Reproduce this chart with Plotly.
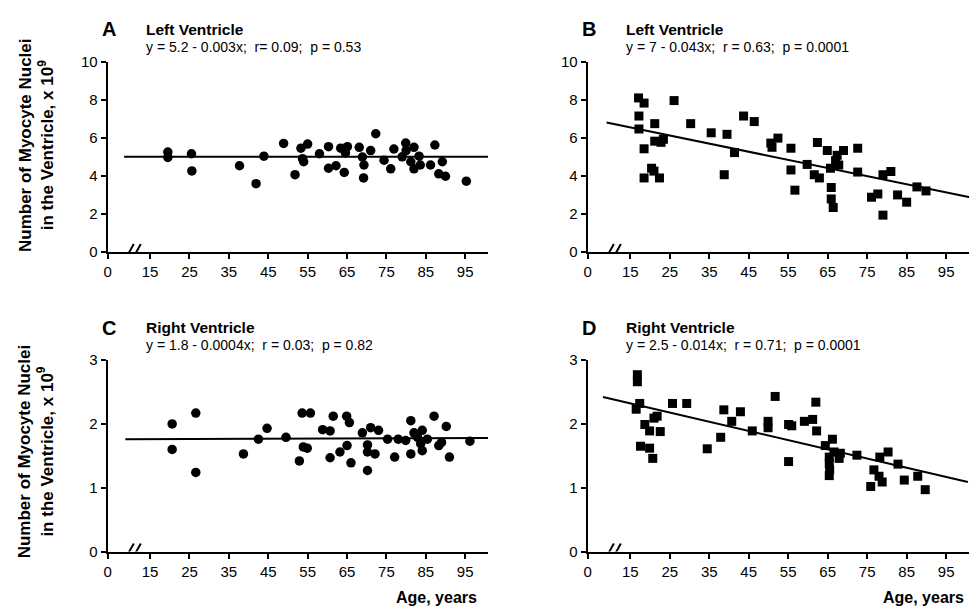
import plotly.graph_objects as go

# ---------------- data ----------------
A_age = [19.5, 19.5, 25.5, 25.6, 37.7, 41.9, 43.9, 48.9, 51.8, 53.3, 55.0, 54.0, 53.7, 58.0,
         60.3, 60.3, 62.2, 63.4, 65.1, 64.3, 64.6, 68.1, 68.9, 69.3, 69.2, 71.0, 72.3, 74.4,
         76.1, 76.9, 79.9, 80.0, 82.0, 81.2, 82.0, 83.3, 83.6, 86.2, 87.3, 89.2, 88.3, 90.0,
         95.3, 79.0]
A_val = [5.25, 4.97, 5.16, 4.26, 4.53, 3.59, 5.03, 5.70, 4.06, 5.45, 5.67, 4.74, 4.90, 5.16,
         5.53, 4.40, 4.53, 5.45, 5.53, 4.18, 5.20, 5.50, 4.99, 4.57, 3.89, 5.33, 6.21, 4.82,
         4.37, 5.41, 5.72, 5.33, 5.50, 4.74, 4.37, 5.03, 4.57, 4.57, 5.62, 4.74, 4.11, 3.98,
         3.72, 5.00]
A_fit_x = [8.4, 100.8]
A_fit_y = [5.0, 5.0]

B_age = [17.1, 18.5, 17.2, 17.2, 21.2, 26.1, 18.5, 21.2, 22.8, 23.4, 30.3, 35.5, 39.5, 43.7,
         46.4, 41.4, 50.9, 50.6, 52.4, 55.7, 18.5, 20.4, 21.0, 22.4, 38.8, 55.7, 56.7, 59.8,
         62.4, 61.6, 62.9, 64.9, 65.7, 65.9, 65.9, 66.4, 67.4, 67.8, 67.0, 69.0, 72.6, 72.6,
         76.1, 77.7, 79.0, 79.0, 81.0, 82.7, 85.0, 87.6, 89.9]
B_val = [8.09, 7.82, 7.14, 6.46, 6.74, 7.95, 5.42, 5.82, 5.76, 5.92, 6.74, 6.26, 6.18, 7.14,
         6.85, 5.22, 5.50, 5.72, 5.98, 5.45, 3.89, 4.40, 4.25, 3.89, 4.06, 4.31, 3.25, 4.60,
         5.75, 4.06, 3.89, 5.33, 4.40, 3.39, 2.79, 2.34, 5.08, 4.57, 4.80, 5.33, 5.45, 4.20,
         2.88, 3.05, 1.94, 4.06, 4.23, 3.00, 2.62, 3.42, 3.21]
B_fit_x = [9.0, 101.0]
B_fit_y = [6.80, 2.88]

C_age = [20.6, 20.6, 26.6, 26.6, 38.7, 42.5, 44.7, 49.5, 52.9, 53.6, 55.7, 53.9, 54.9, 58.8,
         60.7, 60.7, 61.5, 63.2, 64.9, 65.6, 65.0, 66.0, 68.9, 70.2, 70.2, 70.2, 71.0, 73.0,
         72.1, 75.3, 77.1, 78.0, 79.9, 81.2, 81.2, 82.0, 82.9, 84.1, 83.7, 84.1, 85.4, 87.1,
         88.3, 89.0, 90.2, 91.0, 96.2]
C_val = [2.00, 1.60, 2.17, 1.24, 1.53, 1.76, 1.93, 1.79, 1.42, 2.17, 2.17, 1.64, 1.62, 1.91,
         1.89, 1.47, 2.12, 1.56, 2.12, 2.02, 1.66, 1.39, 1.86, 1.67, 1.56, 1.27, 1.94, 1.90,
         1.53, 1.76, 1.48, 1.76, 1.74, 2.05, 1.53, 1.86, 1.79, 1.90, 1.69, 1.58, 1.76, 2.12,
         1.66, 1.71, 1.96, 1.48, 1.73]
C_fit_x = [8.7, 100.8]
C_fit_y = [1.76, 1.78]

D_age = [16.8, 16.8, 17.4, 16.5, 18.7, 19.9, 21.0, 21.8, 22.6, 17.6, 19.9, 20.7, 25.7, 29.3,
         34.5, 37.9, 38.7, 40.7, 42.9, 45.9, 49.9, 49.9, 51.7, 55.1, 55.9, 55.1, 59.1, 61.2,
         62.0, 62.2, 64.4, 66.2, 65.4, 65.4, 65.4, 65.5, 66.6, 67.9, 68.2, 72.4, 75.9, 76.7,
         78.0, 78.8, 78.2, 80.3, 82.8, 84.4, 87.8, 89.7]
D_val = [2.77, 2.66, 2.32, 2.23, 1.99, 1.89, 2.09, 2.12, 1.88, 1.65, 1.62, 1.46, 2.32, 2.32,
         1.61, 1.79, 2.22, 2.04, 2.19, 1.89, 2.04, 1.94, 2.43, 1.99, 1.97, 1.41, 2.04, 2.07,
         2.34, 1.89, 1.66, 1.76, 1.48, 1.38, 1.19, 1.28, 1.56, 1.46, 1.54, 1.51, 1.02, 1.28,
         1.18, 1.09, 1.48, 1.56, 1.37, 1.12, 1.18, 0.97]
D_fit_x = [8.1, 100.5]
D_fit_y = [2.42, 1.09]

x_tick_vals = [4.2, 15, 25, 35, 45, 55, 65, 75, 85, 95]
x_tick_text = ["0", "15", "25", "35", "45", "55", "65", "75", "85", "95"]
top_y_ticks = [0, 2, 4, 6, 8, 10]
bottom_y_ticks = [0, 1, 2, 3]

panel_letters = ["A", "B", "C", "D"]
panel_titles = ["Left Ventricle", "Left Ventricle", "Right Ventricle", "Right Ventricle"]
panel_equations = [
    "y = 5.2 - 0.003x;&nbsp; r= 0.09;&nbsp; p = 0.53",
    "y = 7 - 0.043x;&nbsp; r = 0.63;&nbsp; p = 0.0001",
    "y = 1.8 - 0.0004x;&nbsp; r = 0.03;&nbsp; p = 0.82",
    "y = 2.5 - 0.014x;&nbsp; r = 0.71;&nbsp; p = 0.0001",
]
y_title = "Number of Myocyte Nuclei<br>in the Ventricle, x 10<sup>9</sup>"
x_title = "Age, years"

# ---------------- layout geometry ----------------
W, H = 980, 616
FONT = "Liberation Sans, Arial, Helvetica, sans-serif"


def px(x):
    return x / W


def py(y):
    return 1 - y / H


# (x0, x1, y_top, y_bottom) in pixels
boxes = [
    (104, 486, 54, 250),
    (586, 969, 54, 250),
    (104, 486, 361, 558),
    (586, 969, 361, 558),
]
x_range = [4.2, 100.8]
y_ranges = [[0, 10], [0, 10], [0, 3], [0, 3]]
y_ticks = [top_y_ticks, top_y_ticks, bottom_y_ticks, bottom_y_ticks]

series = [
    (A_age, A_val, A_fit_x, A_fit_y, "circle", 9.5),
    (B_age, B_val, B_fit_x, B_fit_y, "square", 9),
    (C_age, C_val, C_fit_x, C_fit_y, "circle", 9.5),
    (D_age, D_val, D_fit_x, D_fit_y, "square", 9),
]

fig = go.Figure()
layout = dict(
    width=W, height=H,
    margin=dict(l=0, r=0, t=0, b=0),
    paper_bgcolor="white", plot_bgcolor="white",
    showlegend=False,
    font=dict(family=FONT, color="black", size=15),
)
annotations = []
shapes = []

for i in range(4):
    n = "" if i == 0 else str(i + 1)
    xa, ya = "x" + n, "y" + n
    x0, x1, yt, yb = boxes[i]
    age, val, fx, fy, sym, msize = series[i]
    fig.add_trace(go.Scatter(x=fx, y=fy, mode="lines", xaxis=xa, yaxis=ya,
                             line=dict(color="black", width=2), hoverinfo="skip"))
    fig.add_trace(go.Scatter(x=age, y=val, mode="markers", xaxis=xa, yaxis=ya,
                             marker=dict(symbol=sym, size=msize, color="black",
                                         line=dict(width=0)),
                             cliponaxis=False))
    layout["xaxis" + n] = dict(
        domain=[px(x0), px(x1)], range=x_range, anchor=ya,
        tickmode="array", tickvals=x_tick_vals, ticktext=x_tick_text,
        ticks="outside", ticklen=5, tickwidth=1.5, tickcolor="black",
        showline=True, linecolor="black", linewidth=2,
        showgrid=False, zeroline=False,
        tickfont=dict(family=FONT, size=15, color="black"),
    )
    layout["yaxis" + n] = dict(
        domain=[py(yb), py(yt)], range=y_ranges[i], anchor=xa,
        tickmode="array", tickvals=y_ticks[i],
        ticks="outside", ticklen=5, tickwidth=1.5, tickcolor="black",
        showline=True, linecolor="black", linewidth=2,
        showgrid=False, zeroline=False,
        tickfont=dict(family=FONT, size=15, color="black"),
    )
    # axis break marks
    for dx in (-3.5, 3.5):
        shapes.append(dict(type="line", xref=xa, yref=ya,
                           xsizemode="pixel", ysizemode="pixel",
                           xanchor=10.6, yanchor=0,
                           x0=dx - 4.5, x1=dx + 4.5, y0=-8, y1=8,
                           line=dict(color="black", width=2)))
    # titles
    annotations.append(dict(text="<b>%s</b>" % panel_letters[i], x=px(x0 + 1), y=py(yt - 33),
                            xref="paper", yref="paper", showarrow=False,
                            xanchor="center", yanchor="middle",
                            font=dict(family=FONT, size=20, color="black")))
    annotations.append(dict(text="<b>%s</b>" % panel_titles[i], x=px(x0 + 37), y=py(yt - 33),
                            xref="paper", yref="paper", showarrow=False,
                            xanchor="left", yanchor="middle",
                            font=dict(family=FONT, size=15.5, color="black")))
    annotations.append(dict(text=panel_equations[i], x=px(x0 + 37), y=py(yt - 15),
                            xref="paper", yref="paper", showarrow=False,
                            xanchor="left", yanchor="middle",
                            font=dict(family=FONT, size=14, color="black")))

# y-axis titles (one per row)
for yc in (140, 455):
    annotations.append(dict(text="<b>%s</b>" % y_title, x=px(32), y=py(yc),
                            xref="paper", yref="paper", showarrow=False,
                            textangle=-90, xanchor="center", yanchor="middle",
                            font=dict(family=FONT, size=17, color="black")))
# x-axis titles (bottom row)
for xr in (477, 966):
    annotations.append(dict(text="<b>%s</b>" % x_title, x=px(xr), y=py(605),
                            xref="paper", yref="paper", showarrow=False,
                            xanchor="right", yanchor="middle",
                            font=dict(family=FONT, size=16, color="black")))

layout["annotations"] = annotations
layout["shapes"] = shapes
fig.update_layout(**layout)
fig.write_html("out.html")
